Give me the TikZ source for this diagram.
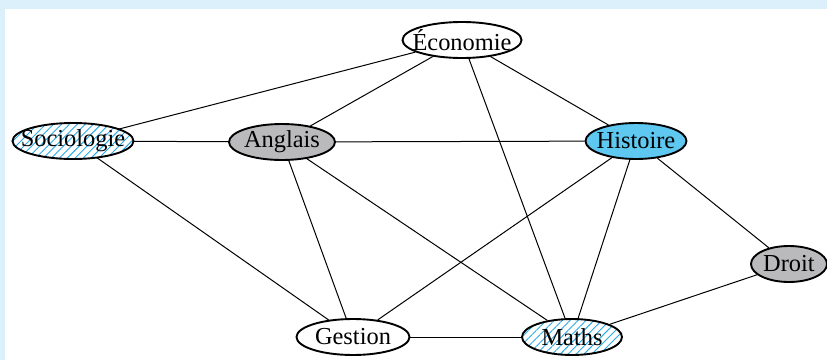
\documentclass[tikz,border=0pt]{standalone}
\usepackage{fontspec}
\setmainfont{Liberation Serif}
\usetikzlibrary{shapes.geometric,patterns.meta}
\definecolor{fond}{RGB}{220,240,252}
\definecolor{bleu}{RGB}{94,200,240}
\definecolor{hachure}{RGB}{40,170,230}
\definecolor{gris}{RGB}{186,186,189}

\begin{document}
\begin{tikzpicture}[x=0.5pt,y=-0.5pt,font=\fontsize{12.2}{14}\selectfont,
  matiere/.style={ellipse,draw,line width=0.95pt,minimum height=18pt,inner sep=0pt,fill=white},
  hachuree/.style={pattern={Lines[angle=45,distance=2.8pt,line width=0.45pt]},pattern color=hachure},
  lien/.style={line width=0.5pt}]
  % cadre
  \fill[fond] (0,0) rectangle (827,360);
  \fill[white] (5,9) rectangle (827,360);
  \useasboundingbox (0,0) rectangle (827,360);
  % matieres
  \node[matiere, minimum width=59.5pt, label=center:Économie] (eco) at (462,40) {};
  \node[matiere, hachuree, minimum width=60.5pt, label=center:Sociologie] (soc) at (73,141) {};
  \node[matiere, fill=gris, minimum width=53pt, label=center:Anglais] (ang) at (282,142) {};
  \node[matiere, fill=bleu, minimum width=50.5pt, label=center:Histoire] (his) at (636,141) {};
  \node[matiere, fill=gris, minimum width=38pt, label=center:Droit] (dro) at (789,264) {};
  \node[matiere, minimum width=56.5pt, label=center:Gestion] (ges) at (353,337) {};
  \node[matiere, hachuree, minimum width=50pt, label=center:Maths] (mat) at (572,337) {};
  % aretes
  \draw[lien] (eco) -- (soc);
  \draw[lien] (eco) -- (ang);
  \draw[lien] (eco) -- (mat);
  \draw[lien] (eco) -- (his);
  \draw[lien] (soc) -- (ang);
  \draw[lien] (soc) -- (ges);
  \draw[lien] (ang) -- (his);
  \draw[lien] (ang) -- (ges);
  \draw[lien] (ang) -- (mat);
  \draw[lien] (his) -- (ges);
  \draw[lien] (his) -- (mat);
  \draw[lien] (his) -- (dro);
  \draw[lien] (ges) -- (mat);
  \draw[lien] (mat) -- (dro);
\end{tikzpicture}
\end{document}
